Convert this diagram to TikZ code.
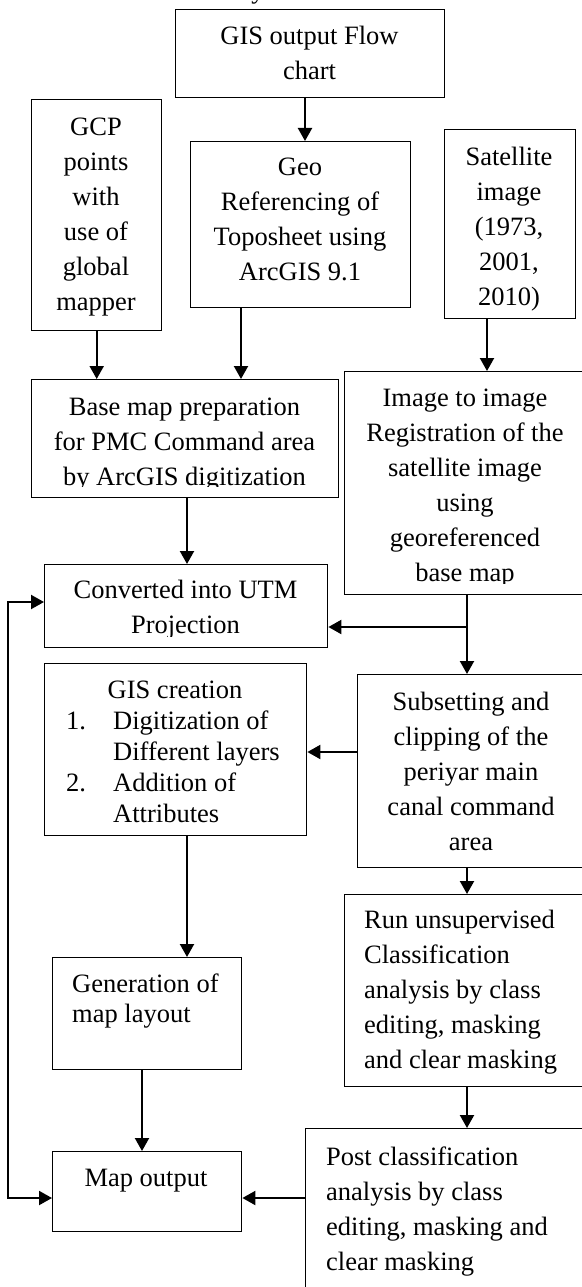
\documentclass[tikz,border=0pt]{standalone}
\usepackage{fontspec}
\setmainfont{Liberation Serif}
\usetikzlibrary{arrows.meta,calc}

\begin{document}
% Multi-line text nodes are placed by the baseline of their last line.
\begin{tikzpicture}[x=1pt,y=-1pt,
  box/.style={draw, line width=1.4pt, rectangle, inner sep=0pt, anchor=north west},
  txt/.style={inner sep=0pt, font=\fontsize{26.5}{35}\selectfont, align=center, anchor=base},
  ltxt/.style={inner sep=0pt, font=\fontsize{26.5}{35}\selectfont, align=left, anchor=base west},
  arr/.style={line width=2.1pt, -{Triangle[width=14pt,length=13pt]}},
  arrboth/.style={line width=2.1pt, {Triangle[width=14pt,length=13pt]}-{Triangle[width=14pt,length=13pt]}},
]
\useasboundingbox (0,0) rectangle (581,1287);

% boxes
\node[box, minimum width=269pt, minimum height=88pt]  (gis)  at (175,9)   {};
\node[box, minimum width=130pt, minimum height=231pt] (gcp)  at (31,99)   {};
\node[box, minimum width=220pt, minimum height=166pt] (geo)  at (190,141) {};
\node[box, minimum width=131pt, minimum height=189pt] (sat)  at (444,129) {};
\node[box, minimum width=307pt, minimum height=118pt] (base) at (31,379)  {};
\node[box, minimum width=244pt, minimum height=223pt] (img)  at (344,371) {};
\node[box, minimum width=283pt, minimum height=83pt]  (utm)  at (44,564)  {};
\node[box, minimum width=262pt, minimum height=172pt] (gisc) at (44,663)  {};
\node[box, minimum width=230pt, minimum height=193pt] (subs) at (357,674) {};
\node[box, minimum width=189pt, minimum height=112pt] (gen)  at (52,957)  {};
\node[box, minimum width=244pt, minimum height=192pt] (run)  at (344,894) {};
\node[box, minimum width=189pt, minimum height=80pt]  (map)  at (52,1151) {};
\node[box, minimum width=290pt, minimum height=180pt] (post) at (305,1128) {};

% texts
\node[txt] (frag) at (258,-1) {y};
\node[txt] (gis-t) at (309.5,80) {GIS output Flow\\chart};
\node[txt] (gcp-t) at (96,310) {GCP\\points\\with\\use of\\global\\mapper};
\node[txt] (geo-t) at (300,280) {Geo\\Referencing of\\Toposheet using\\ArcGIS 9.1};
\node[txt] (sat-t) at (509,305) {Satellite\\image\\(1973,\\2001,\\2010)};
\begin{scope}
  \clip (31,379) rectangle (338,486);
  \node[txt] (base-t) at (184.5,485) {Base map preparation\\for PMC Command area\\by ArcGIS digitization};
\end{scope}
\begin{scope}
  \clip (344,371) rectangle (588,583);
  \node[txt] (img-t) at (465,581) {Image to image\\Registration of the\\satellite image\\using\\georeferenced\\base map};
\end{scope}
\begin{scope}
  \clip (44,564) rectangle (327,636);
  \node[txt] (utm-t) at (185.5,633) {Converted into UTM\\Projection};
\end{scope}
\node[txt] (gisc-t) at (175,698) {GIS creation};
\node[ltxt] (gisc-n1) at (66,729) {1.};
\node[ltxt] (gisc-n2) at (66,791) {2.};
\node[ltxt, font=\fontsize{26.5}{31}\selectfont] (gisc-l) at (113,822) {Digitization of\\Different layers\\Addition of\\Attributes};
\node[txt] (subs-t) at (471,850) {Subsetting and\\clipping of the\\periyar main\\canal command\\area};
\node[ltxt, font=\fontsize{26.5}{30}\selectfont] (gen-t) at (72,1022) {Generation of\\map layout};
\node[txt] (map-t) at (146,1186) {Map output};
\node[ltxt] (run-t) at (364,1068) {Run unsupervised\\Classification\\analysis by class\\editing, masking\\and clear masking};
\node[ltxt] (post-t) at (326,1270) {Post classification\\analysis by class\\editing, masking and\\clear masking};

% lanes for connectors
\coordinate (xa) at (305,0);
\coordinate (xc) at (241,0);
\coordinate (xs) at (487,0);
\coordinate (xb) at (187,0);
\coordinate (xr) at (467,0);
\coordinate (xm) at (142,0);
\coordinate (xl) at (8,0);
\coordinate (yu) at (0,627);
\coordinate (yg) at (0,752);
\coordinate (ym) at (0,1198);
\coordinate (yt) at (0,602);

% connectors
\draw[arr] (gis.south -| xa) -- (geo.north -| xa);
\draw[arr] (gcp.south) -- (base.north -| gcp.south);
\draw[arr] (geo.south -| xc) -- (base.north -| xc);
\draw[arr] (sat.south -| xs) -- (img.north -| xs);
\draw[arr] (base.south -| xb) -- (utm.north -| xb);
\draw[arr] (img.south -| xr) -- (subs.north -| xr);
\draw[arr] (xr |- yu) -- (utm.east |- yu);
\draw[arr] (subs.west |- yg) -- (gisc.east |- yg);
\draw[arr] (gisc.south -| xb) -- (gen.north -| xb);
\draw[arr] (subs.south -| xr) -- (run.north -| xr);
\draw[arr] (gen.south -| xm) -- (map.north -| xm);
\draw[arr] (run.south -| xr) -- (post.north -| xr);
\draw[arr] (post.west |- ym) -- (map.east |- ym);
\draw[arrboth] (utm.west |- yt) -- (xl |- yt) -- (xl |- ym) -- (map.west |- ym);
\end{tikzpicture}
\end{document}
